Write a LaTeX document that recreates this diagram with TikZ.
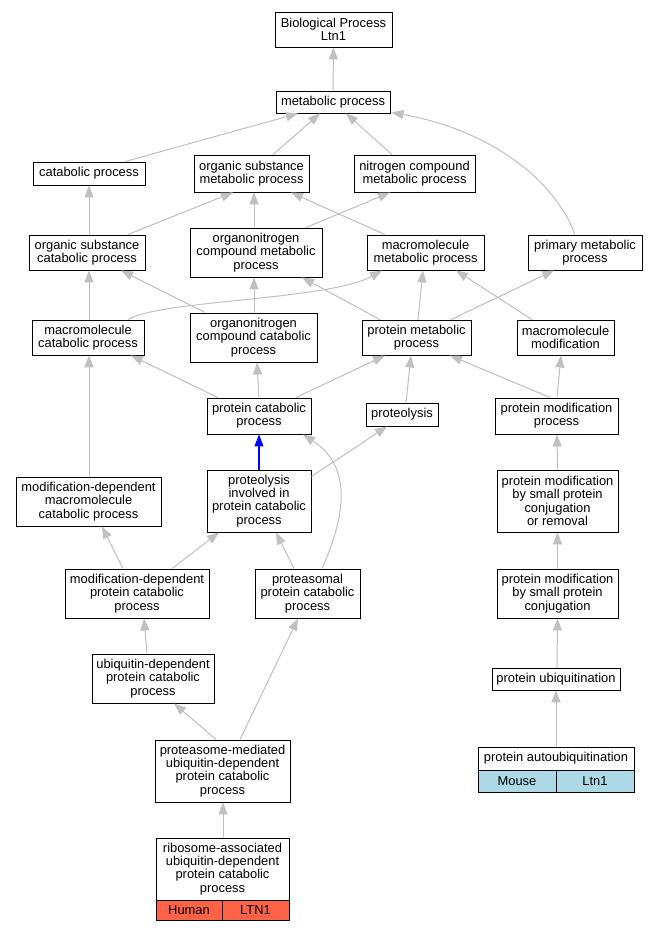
\documentclass[tikz,border=0pt]{standalone}
\usepackage{fontspec}
\setmainfont{Liberation Sans}
\usetikzlibrary{arrows.meta}
\definecolor{edgegray}{HTML}{C0C0C0}
\definecolor{tomatoc}{HTML}{FF6347}
\definecolor{lblue}{HTML}{ADD8E6}
\tikzset{
  box/.style={draw, line width=0.9pt, inner sep=0pt, align=center,
    font=\fontsize{12.9}{13.3}\selectfont},
  edge/.style={draw=edgegray, line width=1pt,
    -{Triangle[length=12pt,width=9pt]}},
  blueedge/.style={draw=blue, line width=1.2pt,
    -{Triangle[length=12pt,width=9pt]}},
}
\newcommand\gedge[4]{\draw[edge] ([xshift=#2pt]#1.north) -- ([xshift=#4pt]#3.south);}
\begin{document}
\begin{tikzpicture}[x=1pt,y=-1pt]
\fill[white] (0,0) rectangle (657,933);
\useasboundingbox (0,0) rectangle (657,933);
% nodes
\node[box, minimum width=117, minimum height=35] (bp) at (333.5,29.5) {Biological Process\\Ltn1};
\node[box, minimum width=114, minimum height=22] (met) at (333,102) {metabolic process};
\node[box, minimum width=112, minimum height=23] (cat) at (89,173.5) {catabolic process};
\node[box, minimum width=115, minimum height=37] (osm) at (251.5,173.5) {organic substance\\metabolic process};
\node[box, minimum width=121, minimum height=37] (ncm) at (414.5,173.5) {nitrogen compound\\metabolic process};
\node[box, minimum width=116, minimum height=35] (osc) at (87,252.5) {organic substance\\catabolic process};
\node[box, minimum width=132, minimum height=49] (onm) at (256,252.5) {organonitrogen\\compound metabolic\\process};
\node[box, minimum width=117, minimum height=35] (mmp) at (425.5,252.5) {macromolecule\\metabolic process};
\node[box, minimum width=114, minimum height=35] (pmp) at (585,252.5) {primary metabolic\\process};
\node[box, minimum width=112, minimum height=35] (mcp) at (88,337.5) {macromolecule\\catabolic process};
\node[box, minimum width=127, minimum height=49] (occ) at (253.5,337.5) {organonitrogen\\compound catabolic\\process};
\node[box, minimum width=109, minimum height=35] (prm) at (416.5,337.5) {protein metabolic\\process};
\node[box, minimum width=97, minimum height=35] (mmod) at (565.5,337.5) {macromolecule\\modification};
\node[box, minimum width=104, minimum height=36] (pcp) at (259,416) {protein catabolic\\process};
\node[box, minimum width=72, minimum height=23] (prot) at (402,414.5) {proteolysis};
\node[box, minimum width=123, minimum height=36] (pmod) at (556.5,416) {protein modification\\process};
\node[box, minimum width=145, minimum height=49] (mdm) at (88.5,501.5) {modification-dependent\\macromolecule\\catabolic process};
\node[box, minimum width=104, minimum height=62] (pipc) at (259,501) {proteolysis\\involved in\\protein catabolic\\process};
\node[box, minimum width=121, minimum height=62] (psmc) at (557.5,501) {protein modification\\by small protein\\conjugation\\or removal};
\node[box, minimum width=144, minimum height=49] (mdp) at (137,593.5) {modification-dependent\\protein catabolic\\process};
\node[box, minimum width=105, minimum height=49] (ppc) at (307.5,593.5) {proteasomal\\protein catabolic\\process};
\node[box, minimum width=121, minimum height=49] (psc) at (557.5,593.5) {protein modification\\by small protein\\conjugation};
\node[box, minimum width=122, minimum height=49] (udp) at (153,678.5) {ubiquitin-dependent\\protein catabolic\\process};
\node[box, minimum width=128, minimum height=22] (pu) at (556,679) {protein ubiquitination};
\node[box, minimum width=135, minimum height=62] (pmu) at (222.5,771) {proteasome-mediated\\ubiquitin-dependent\\protein catabolic\\process};
\node[box, minimum width=156, minimum height=23] (pau) at (556,758.5) {protein autoubiquitination};
\node[box, fill=lblue, minimum width=78, minimum height=22] (pauA) at (517,781) {Mouse};
\node[box, fill=lblue, minimum width=78, minimum height=22] (pauB) at (595,781) {Ltn1};
\node[box, minimum width=133, minimum height=62] (rib) at (222.5,869) {ribosome-associated\\ubiquitin-dependent\\protein catabolic\\process};
\node[box, fill=tomatoc, minimum width=66, minimum height=20] (ribA) at (189,910) {Human};
\node[box, fill=tomatoc, minimum width=67, minimum height=20] (ribB) at (255.5,910) {LTN1};
% edges
\gedge{met}{0}{bp}{0}
\gedge{cat}{36}{met}{-35}
\gedge{osm}{21.5}{met}{-13}
\gedge{ncm}{-22.5}{met}{13}
\draw[edge] ([xshift=-10pt]pmp.north) .. controls (555,180) and (490,130) .. ([xshift=1pt,yshift=1pt]met.south east);
\gedge{osc}{2}{cat}{0}
\gedge{osc}{41}{osm}{-18.5}
\gedge{onm}{-2}{osm}{2.5}
\gedge{onm}{50}{ncm}{-24.5}
\gedge{mmp}{-40.5}{osm}{39.5}
\gedge{mcp}{1}{osc}{2}
\draw[edge] ([xshift=40pt]mcp.north) .. controls (160,300) and (330,300) .. ([xshift=-43.5pt]mmp.south);
\gedge{occ}{-48.5}{osc}{34}
\gedge{occ}{0.5}{onm}{-2}
\gedge{prm}{-36.5}{onm}{46}
\gedge{prm}{1.5}{mmp}{-2.5}
\gedge{prm}{34.5}{pmp}{-31}
\gedge{mmod}{-33.5}{mmp}{30.5}
\gedge{pcp}{-41}{mcp}{43}
\gedge{pcp}{0}{occ}{3.5}
\gedge{pcp}{37}{prm}{-31.5}
\gedge{prot}{4}{prm}{-5.5}
\gedge{pmod}{-6.5}{prm}{33.5}
\gedge{pmod}{0.5}{mmod}{-4.5}
\draw[blueedge] (pipc.north) -- (pcp.south);
\draw[edge] ([yshift=-7pt]pipc.north east) -- ([xshift=-15pt]prot.south);
\draw[edge] ([xshift=14.5pt]ppc.north) .. controls (348,510) and (350,465) .. ([xshift=44pt]pcp.south);
\gedge{psmc}{0}{pmod}{0.5}
\gedge{mdm}{0.5}{mcp}{1}
\gedge{mdp}{-14}{mdm}{13.5}
\gedge{mdp}{35}{pipc}{-40}
\gedge{ppc}{-13.5}{pipc}{17}
\gedge{psc}{0}{psmc}{0}
\gedge{udp}{-6}{mdp}{7}
\gedge{pu}{1}{psc}{0}
\gedge{pmu}{-6.5}{udp}{21}
\gedge{pmu}{17.5}{ppc}{-9.5}
\gedge{pau}{0}{pu}{0}
\gedge{rib}{0.5}{pmu}{0.5}
\end{tikzpicture}
\end{document}
